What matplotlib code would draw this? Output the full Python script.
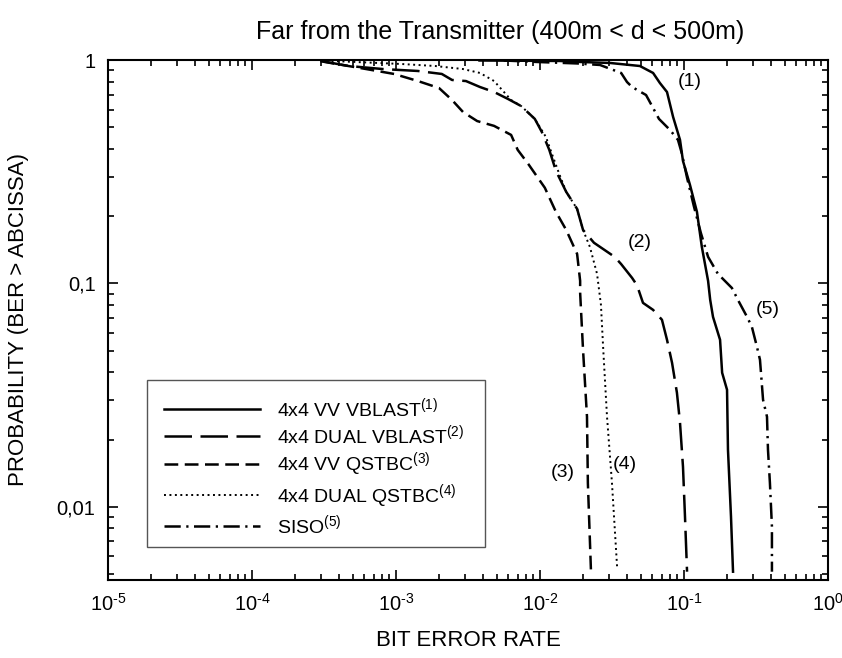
import numpy as np
import matplotlib
matplotlib.use("Agg")
import matplotlib.pyplot as plt
from matplotlib.patches import Rectangle
from matplotlib.ticker import FixedLocator, LogLocator, NullFormatter

plt.rcParams['font.family'] = ['Liberation Sans', 'DejaVu Sans']
plt.rcParams['mathtext.fontset'] = 'custom'
plt.rcParams['mathtext.rm'] = 'Liberation Sans'
plt.rcParams['mathtext.it'] = 'Liberation Sans'
plt.rcParams['axes.unicode_minus'] = False

""" 1. Data read off the curves (BER, P(BER > abscissa)) """

# (1) 4x4 VV VBLAST
ber_vv_vblast = [3.8e-3, 0.0138, 0.019, 0.0306, 0.0494, 0.061, 0.068, 0.0762, 0.084, 0.0938,
                 0.0984, 0.110, 0.123, 0.133, 0.147, 0.152, 0.159, 0.178, 0.184, 0.199,
                 0.202, 0.212, 0.219]
p_vv_vblast = [0.995, 0.99, 0.98, 0.97, 0.94, 0.875, 0.789, 0.719, 0.556, 0.439,
               0.353, 0.276, 0.209, 0.1457, 0.1026, 0.0844, 0.0708, 0.0559, 0.0398, 0.0334,
               0.018, 0.00902, 0.00512]

# (2) 4x4 DUAL VBLAST
ber_dual_vblast = [3.0e-4, 4.7e-4, 8.1e-4, 1.42e-3, 2.08e-3, 2.45e-3, 3.06e-3, 3.83e-3, 4.8e-3, 6.0e-3,
                   7.4e-3, 9.2e-3, 0.0103, 0.0116, 0.0129, 0.0152, 0.0181, 0.0199, 0.0237, 0.0330,
                   0.0366, 0.0436, 0.0472, 0.0519, 0.061, 0.0703, 0.0762, 0.0826, 0.0893, 0.0938,
                   0.0984, 0.1016, 0.105]
p_dual_vblast = [0.99, 0.94, 0.911, 0.893, 0.866, 0.814, 0.805, 0.757, 0.719, 0.669,
                 0.622, 0.545, 0.476, 0.396, 0.319, 0.257, 0.2155, 0.1735, 0.152, 0.1314,
                 0.122, 0.1058, 0.098, 0.0818, 0.0761, 0.0687, 0.0559, 0.0441, 0.0324, 0.0238,
                 0.0151, 0.00902, 0.00512]

# (3) 4x4 VV QSTBC
ber_vv_qstbc = [3.0e-4, 3.2e-4, 6.2e-4, 9.7e-4, 1.42e-3, 1.99e-3, 2.45e-3, 2.92e-3, 3.66e-3, 4.8e-3,
                6.3e-3, 7.0e-3, 8.3e-3, 0.0108, 0.0129, 0.0152, 0.0181, 0.019, 0.019, 0.0199,
                0.0212, 0.0215, 0.0226]
p_vv_qstbc = [0.99, 0.98, 0.911, 0.866, 0.805, 0.749, 0.662, 0.585, 0.533, 0.507,
              0.462, 0.396, 0.342, 0.268, 0.209, 0.1735, 0.1355, 0.1026, 0.0907, 0.0504,
              0.0253, 0.0128, 0.00512]

# (4) 4x4 DUAL QSTBC
ber_dual_qstbc = [3.0e-4, 1.08e-3, 1.87e-3, 2.92e-3, 3.83e-3, 4.8e-3, 5.62e-3, 6.3e-3, 7.4e-3, 9.2e-3,
                  0.011, 0.0121, 0.0136, 0.0152, 0.0181, 0.0199, 0.0222, 0.0249, 0.0265, 0.0275,
                  0.0292, 0.0316, 0.0343]
p_dual_qstbc = [0.995, 0.96, 0.94, 0.911, 0.875, 0.805, 0.719, 0.662, 0.622, 0.545,
                0.452, 0.380, 0.309, 0.257, 0.2155, 0.1735, 0.1457, 0.1103, 0.0801, 0.0504,
                0.0253, 0.0128, 0.00539]

# (5) SISO
ber_siso = [5.6e-3, 0.0095, 0.0181, 0.0261, 0.0366, 0.0402, 0.0436, 0.0545, 0.060, 0.067,
            0.080, 0.0908, 0.0968, 0.105, 0.117, 0.131, 0.147, 0.172, 0.215, 0.241,
            0.274, 0.296, 0.321, 0.337, 0.354, 0.377, 0.383, 0.395, 0.408, 0.408]
p_siso = [0.995, 0.98, 0.965, 0.95, 0.875, 0.797, 0.757, 0.697, 0.622, 0.545,
          0.486, 0.439, 0.380, 0.297, 0.222, 0.168, 0.1314, 0.1103, 0.0954, 0.0826,
          0.0708, 0.0639, 0.052, 0.0455, 0.0301, 0.0253, 0.018, 0.0128, 0.00814, 0.00512]

labels = ['4x4 VV VBLAST$\\mathregular{^{(1)}}$',
          '4x4 DUAL VBLAST$\\mathregular{^{(2)}}$',
          '4x4 VV QSTBC$\\mathregular{^{(3)}}$',
          '4x4 DUAL QSTBC$\\mathregular{^{(4)}}$',
          'SISO$\\mathregular{^{(5)}}$']

x_ticks = [1e-5, 1e-4, 1e-3, 1e-2, 1e-1, 1]
x_exponents = ['-5', '-4', '-3', '-2', '-1', '0']
y_ticks = [0.01, 0.1, 1]
y_ticklabels = ['0,01', '0,1', '1']

""" 2. Plot """

fig = plt.figure(figsize=(8.42, 6.58), dpi=100)
ax = fig.add_axes([108/842, 1-580/658, 720/842, 520/658])

lw = 1.8
ax.plot(ber_vv_vblast, p_vv_vblast, color='black', lw=lw, linestyle='-', label=labels[0])
ax.plot(ber_dual_vblast, p_dual_vblast, color='black', lw=lw, linestyle=(0, (11, 3.4)), label=labels[1])
ax.plot(ber_vv_qstbc, p_vv_qstbc, color='black', lw=lw, linestyle=(0, (5.5, 2.6)), label=labels[2])
ax.plot(ber_dual_qstbc, p_dual_qstbc, color='black', lw=1.4, linestyle=(0, (1, 1.8)), label=labels[3])
ax.plot(ber_siso, p_siso, color='black', lw=lw, linestyle=(0, (6.5, 2.2, 0.9, 2.2)), label=labels[4])

ax.set_xscale('log')
ax.set_yscale('log')
ax.set_xlim(1e-5, 1)
ax.set_ylim(0.0047, 1)

ax.xaxis.set_major_locator(FixedLocator(x_ticks))
ax.set_xticklabels(['$\\mathregular{10^{\\text{%s}}}$' % e for e in x_exponents])
ax.yaxis.set_major_locator(FixedLocator(y_ticks))
ax.set_yticklabels(y_ticklabels)
ax.yaxis.set_minor_locator(LogLocator(base=10, subs=np.arange(2, 10)))
ax.yaxis.set_minor_formatter(NullFormatter())
ax.xaxis.set_minor_locator(LogLocator(base=10, subs=np.arange(2, 10), numticks=20))
ax.xaxis.set_minor_formatter(NullFormatter())

ax.tick_params(which='both', direction='in', top=True, right=True, labelsize=14.5, width=1.2)
ax.tick_params(which='major', length=7, pad=9)
ax.tick_params(which='minor', length=4)
for s in ax.spines.values():
    s.set_linewidth(1.5)

ax.set_title('Far from the Transmitter (400m < d < 500m)', fontsize=18, pad=15, x=0.544)
ax.set_xlabel('BIT ERROR RATE', fontsize=16, labelpad=11)
ax.set_ylabel('PROBABILITY (BER > ABCISSA)', fontsize=16, labelpad=20)

# curve numbers
ax.text(0.110, 0.80, '(1)', fontsize=14, ha='center', va='center')
ax.text(0.0494, 0.152, '(2)', fontsize=14, ha='center', va='center')
ax.text(0.0145, 0.0142, '(3)', fontsize=14, ha='center', va='center')
ax.text(0.0389, 0.0154, '(4)', fontsize=14, ha='center', va='center')
ax.text(0.383, 0.0761, '(5)', fontsize=14, ha='center', va='center')

# legend with its own frame
ax.add_patch(Rectangle((0.054, 0.063), 0.47, 0.322, transform=ax.transAxes,
                       fill=False, edgecolor='#555555', lw=1.0, zorder=3))
ax.legend(loc='upper left', bbox_to_anchor=(0.054, 0.388), frameon=False,
          fontsize=14, handlelength=4.9, handletextpad=0.9, labelspacing=0.18,
          borderpad=0.4)

plt.savefig('out.png', dpi=100)
